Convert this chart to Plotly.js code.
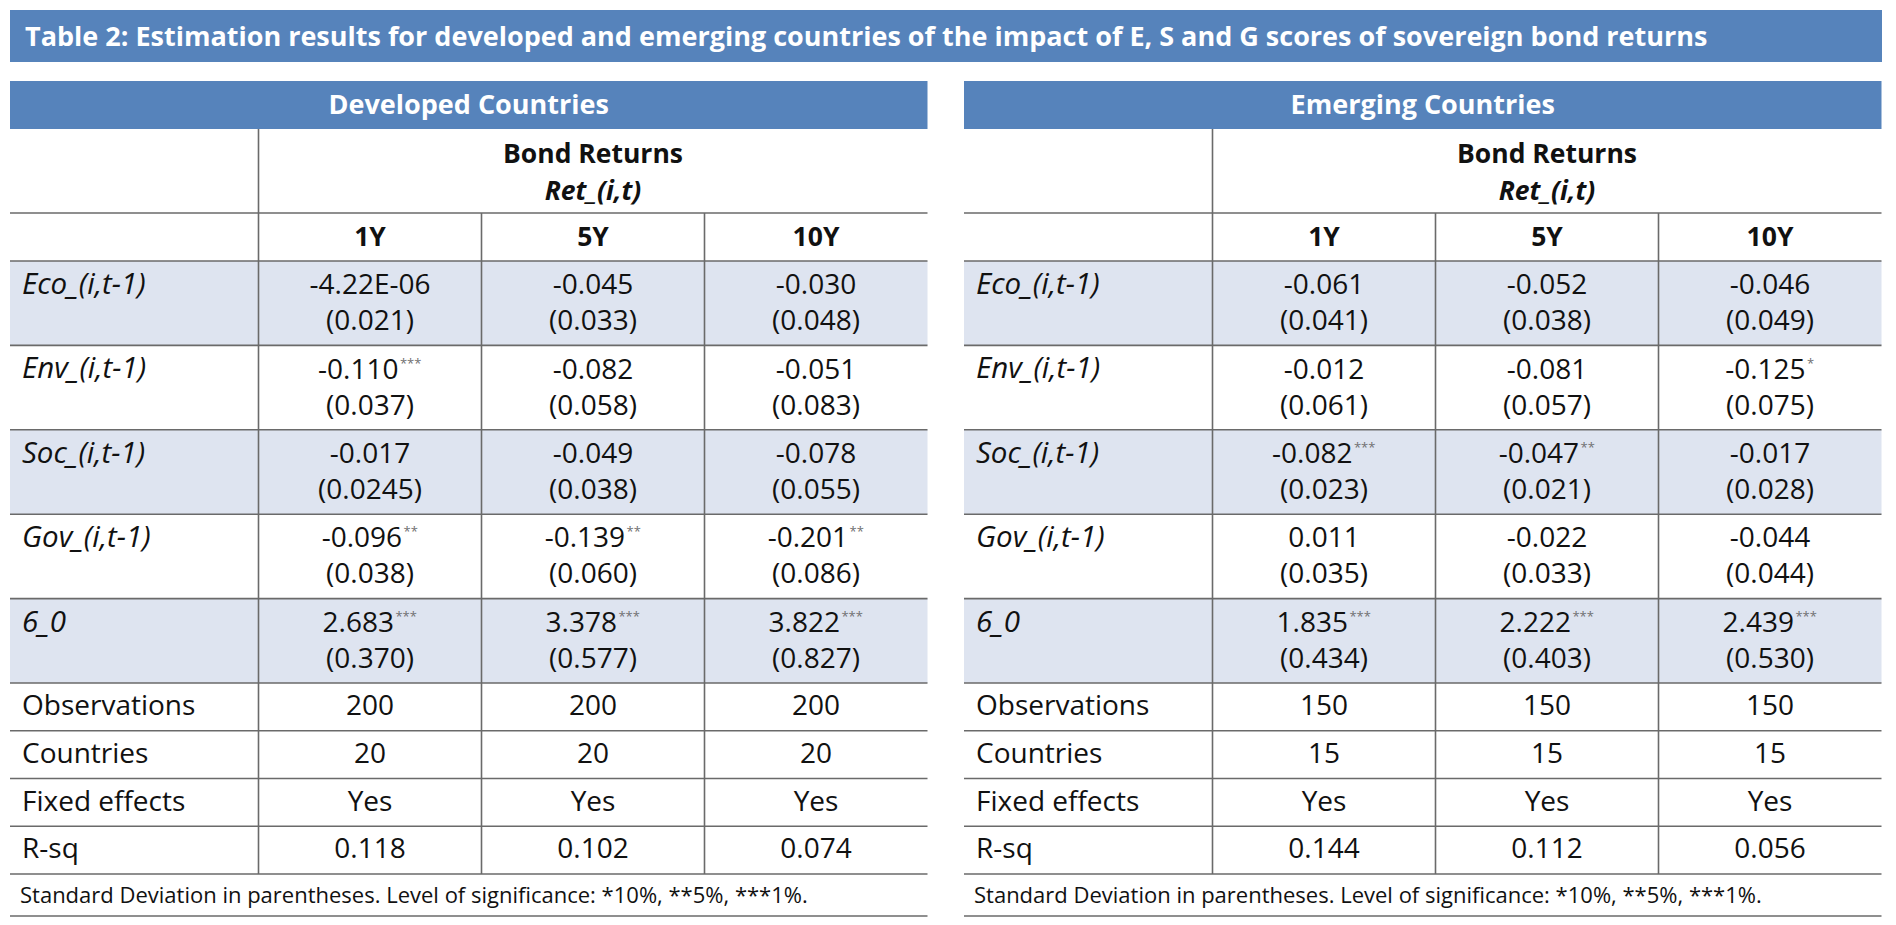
<!DOCTYPE html>
<html><head><meta charset="utf-8">
<script src="https://cdn.plot.ly/plotly-3.0.1.min.js"></script>
<style>html,body{margin:0;padding:0;background:#fff;overflow:hidden}#chart{width:1896px;height:925px}</style>
</head><body><div id="chart"></div>
<script>
// ---------------- data ----------------
const titleText = "Table 2: Estimation results for developed and emerging countries of the impact of E, S and G scores of sovereign bond returns";
const panelTitles = ["Developed Countries", "Emerging Countries"];
const depVarTitle = "Bond Returns";
const depVarSymbol = "Ret_(i,t)";
const horizons = ["1Y", "5Y", "10Y"];
const coefLabels = ["Eco_(i,t-1)", "Env_(i,t-1)", "Soc_(i,t-1)", "Gov_(i,t-1)", "6_0"];
const statLabels = ["Observations", "Countries", "Fixed effects", "R-sq"];
const footnote = "Standard Deviation in parentheses. Level of significance: *10%, **5%, ***1%.";

// Developed countries
const devCoef = [
  ["-4.22E-06", "-0.045", "-0.030"],
  ["-0.110", "-0.082", "-0.051"],
  ["-0.017", "-0.049", "-0.078"],
  ["-0.096", "-0.139", "-0.201"],
  ["2.683", "3.378", "3.822"]
];
const devSE = [
  ["0.021", "0.033", "0.048"],
  ["0.037", "0.058", "0.083"],
  ["0.0245", "0.038", "0.055"],
  ["0.038", "0.060", "0.086"],
  ["0.370", "0.577", "0.827"]
];
const devStars = [
  ["", "", ""],
  ["***", "", ""],
  ["", "", ""],
  ["**", "**", "**"],
  ["***", "***", "***"]
];
const devObservations = ["200", "200", "200"];
const devCountries = ["20", "20", "20"];
const devFixedEffects = ["Yes", "Yes", "Yes"];
const devRsq = ["0.118", "0.102", "0.074"];

// Emerging countries
const emgCoef = [
  ["-0.061", "-0.052", "-0.046"],
  ["-0.012", "-0.081", "-0.125"],
  ["-0.082", "-0.047", "-0.017"],
  ["0.011", "-0.022", "-0.044"],
  ["1.835", "2.222", "2.439"]
];
const emgSE = [
  ["0.041", "0.038", "0.049"],
  ["0.061", "0.057", "0.075"],
  ["0.023", "0.021", "0.028"],
  ["0.035", "0.033", "0.044"],
  ["0.434", "0.403", "0.530"]
];
const emgStars = [
  ["", "", ""],
  ["", "", "*"],
  ["***", "**", ""],
  ["", "", ""],
  ["***", "***", "***"]
];
const emgObservations = ["150", "150", "150"];
const emgCountries = ["15", "15", "15"];
const emgFixedEffects = ["Yes", "Yes", "Yes"];
const emgRsq = ["0.144", "0.112", "0.056"];

// ---------------- style / geometry ----------------
const W = 1896, H = 925;
const BLUE = "#5683bb", SHADE = "#dee4f0", LINE = "#6a6a6a", INK = "#111111", STAR = "#707070";
const FONT = "Open Sans";
const BODY = "Open Sans, Noto Sans, sans-serif";
const titleBar = {x0: 10, x1: 1882, y0: 10, y1: 62};
const panelLeft = [10, 964];
const colWidths = [248.5, 223, 223, 223];
const headerTop = 81, headerH = 48, depH = 84, horH = 48, coefH = 84.4, statH = 47.75, footH = 42;
const FS = {title: 27, panel: 27, head: 26.5, body: 28, label: 29.5, foot: 22, star: 13};

const panels = [
  {title: panelTitles[0], coef: devCoef, se: devSE, stars: devStars,
   stats: [devObservations, devCountries, devFixedEffects, devRsq]},
  {title: panelTitles[1], coef: emgCoef, se: emgSE, stars: emgStars,
   stats: [emgObservations, emgCountries, emgFixedEffects, emgRsq]}
];

// text width measurement (to keep "value + stars" centred as one unit)
const ctx = document.createElement("canvas").getContext("2d");
function textWidth(s, size) { ctx.font = size + "px \"" + FONT + "\""; return ctx.measureText(s).width; }

// row edges
const yHeadTop = headerTop, yDepTop = yHeadTop + headerH, yHorTop = yDepTop + depH, yCoefTop = yHorTop + horH;
const coefTops = coefLabels.map((_, i) => yCoefTop + i * coefH);
const yStatTop = yCoefTop + coefLabels.length * coefH;
const statTops = statLabels.map((_, i) => yStatTop + i * statH);
const yFootTop = yStatTop + statLabels.length * statH;
const yFootBot = yFootTop + footH;

const traces = [];
const shapes = [];
function addText(xs, ys, texts, pos, size, weight, color) {
  traces.push({type: "scatter", mode: "text", x: xs, y: ys, text: texts, textposition: pos,
    textfont: {family: BODY, size: size, color: color || INK, weight: weight || "normal"},
    hoverinfo: "skip", showlegend: false, cliponaxis: false});
}
const mid = (baselineY, size) => baselineY - 0.35 * size;
function rect(x0, x1, y0, y1, fill) {
  shapes.push({type: "rect", xref: "x", yref: "y", x0, x1, y0, y1, fillcolor: fill, line: {width: 0}, layer: "below"});
}
function line(x0, x1, y0, y1, w) {
  shapes.push({type: "line", xref: "x", yref: "y", x0, x1, y0, y1, line: {color: LINE, width: w || 1.6}});
}

// title
rect(titleBar.x0, titleBar.x1, titleBar.y0, titleBar.y1, BLUE);
addText([titleBar.x0 + 15], [mid(49, FS.title)], [titleText], "middle right", FS.title, "bold", "#ffffff");

panels.forEach((p, pi) => {
  const x0 = panelLeft[pi];
  const edges = [x0];
  colWidths.forEach(w => edges.push(edges[edges.length - 1] + w));
  const xR = edges[edges.length - 1];
  const colC = [0, 1, 2].map(j => (edges[j + 1] + edges[j + 2]) / 2);
  const labelX = x0 + 12;

  // header bar
  rect(x0, xR, yHeadTop, yDepTop, BLUE);
  addText([(x0 + xR) / 2], [mid(yHeadTop + 36, FS.panel)], [p.title], "middle center", FS.panel, "bold", "#ffffff");

  // dependent variable header
  const depC = (edges[1] + xR) / 2;
  addText([depC, depC], [mid(yDepTop + 37, FS.head), mid(yDepTop + 74, FS.head)],
    [depVarTitle, "<i>" + depVarSymbol + "</i>"], "middle center", FS.head, "bold");
  // horizons
  addText(colC, colC.map(() => mid(yHorTop + 36, FS.head)), horizons, "middle center", FS.head, "bold");

  // shaded rows
  coefTops.forEach((t, i) => { if (i % 2 === 0) rect(x0, xR, t, t + coefH, SHADE); });

  // coefficient rows
  const lx = [], ly = [], lt = [];
  const sx = [], sy = [], stt = [];
  const vx = [], vy = [], vt = [];
  const kx = [], ky = [], kt = [];
  coefLabels.forEach((lab, i) => {
    lx.push(labelX); ly.push(mid(coefTops[i] + 36, FS.label)); lt.push("<i>" + lab + "</i>");
    for (let j = 0; j < 3; j++) {
      const num = p.coef[i][j], st = p.stars[i][j];
      const nw = textWidth(num, FS.body);
      const sw = st ? textWidth(st, FS.star) + 2 : 0;
      const left = colC[j] - (nw + sw) / 2;
      vx.push(left + nw / 2); vy.push(mid(coefTops[i] + 36, FS.body)); vt.push(num);
      if (st) { kx.push(left + nw + 1.5); ky.push(coefTops[i] + 19); kt.push(st); }
      vx.push(colC[j]); vy.push(mid(coefTops[i] + 72, FS.body)); vt.push("(" + p.se[i][j] + ")");
    }
  });
  statLabels.forEach((lab, i) => {
    sx.push(labelX); sy.push(mid(statTops[i] + 35, FS.body)); stt.push(lab);
    for (let j = 0; j < 3; j++) {
      vx.push(colC[j]); vy.push(mid(statTops[i] + 35, FS.body)); vt.push(p.stats[i][j]);
    }
  });
  addText(lx, ly, lt, "middle right", FS.label);
  addText(sx, sy, stt, "middle right", FS.body);
  addText(vx, vy, vt, "middle center", FS.body);
  addText(kx, ky, kt, "middle right", FS.star, "normal", STAR);
  addText([x0 + 10], [mid(yFootTop + 31, FS.foot)], [footnote], "middle right", FS.foot);

  // rules
  const hs = [yHorTop, yCoefTop].concat(coefTops.slice(1), [yStatTop], statTops.slice(1), [yFootTop, yFootBot]);
  hs.forEach(y => line(x0, xR, y, y));
  line(edges[1], edges[1], yDepTop, yFootTop);
  line(edges[2], edges[2], yHorTop, yFootTop);
  line(edges[3], edges[3], yHorTop, yFootTop);
});

const layout = {
  width: W, height: H, margin: {l: 0, r: 0, t: 0, b: 0, pad: 0},
  paper_bgcolor: "#ffffff", plot_bgcolor: "#ffffff",
  xaxis: {range: [0, W], visible: false, fixedrange: true},
  yaxis: {range: [H, 0], visible: false, fixedrange: true},
  shapes: shapes, showlegend: false
};
Plotly.newPlot("chart", traces, layout, {staticPlot: true, displayModeBar: false});
</script></body></html>
